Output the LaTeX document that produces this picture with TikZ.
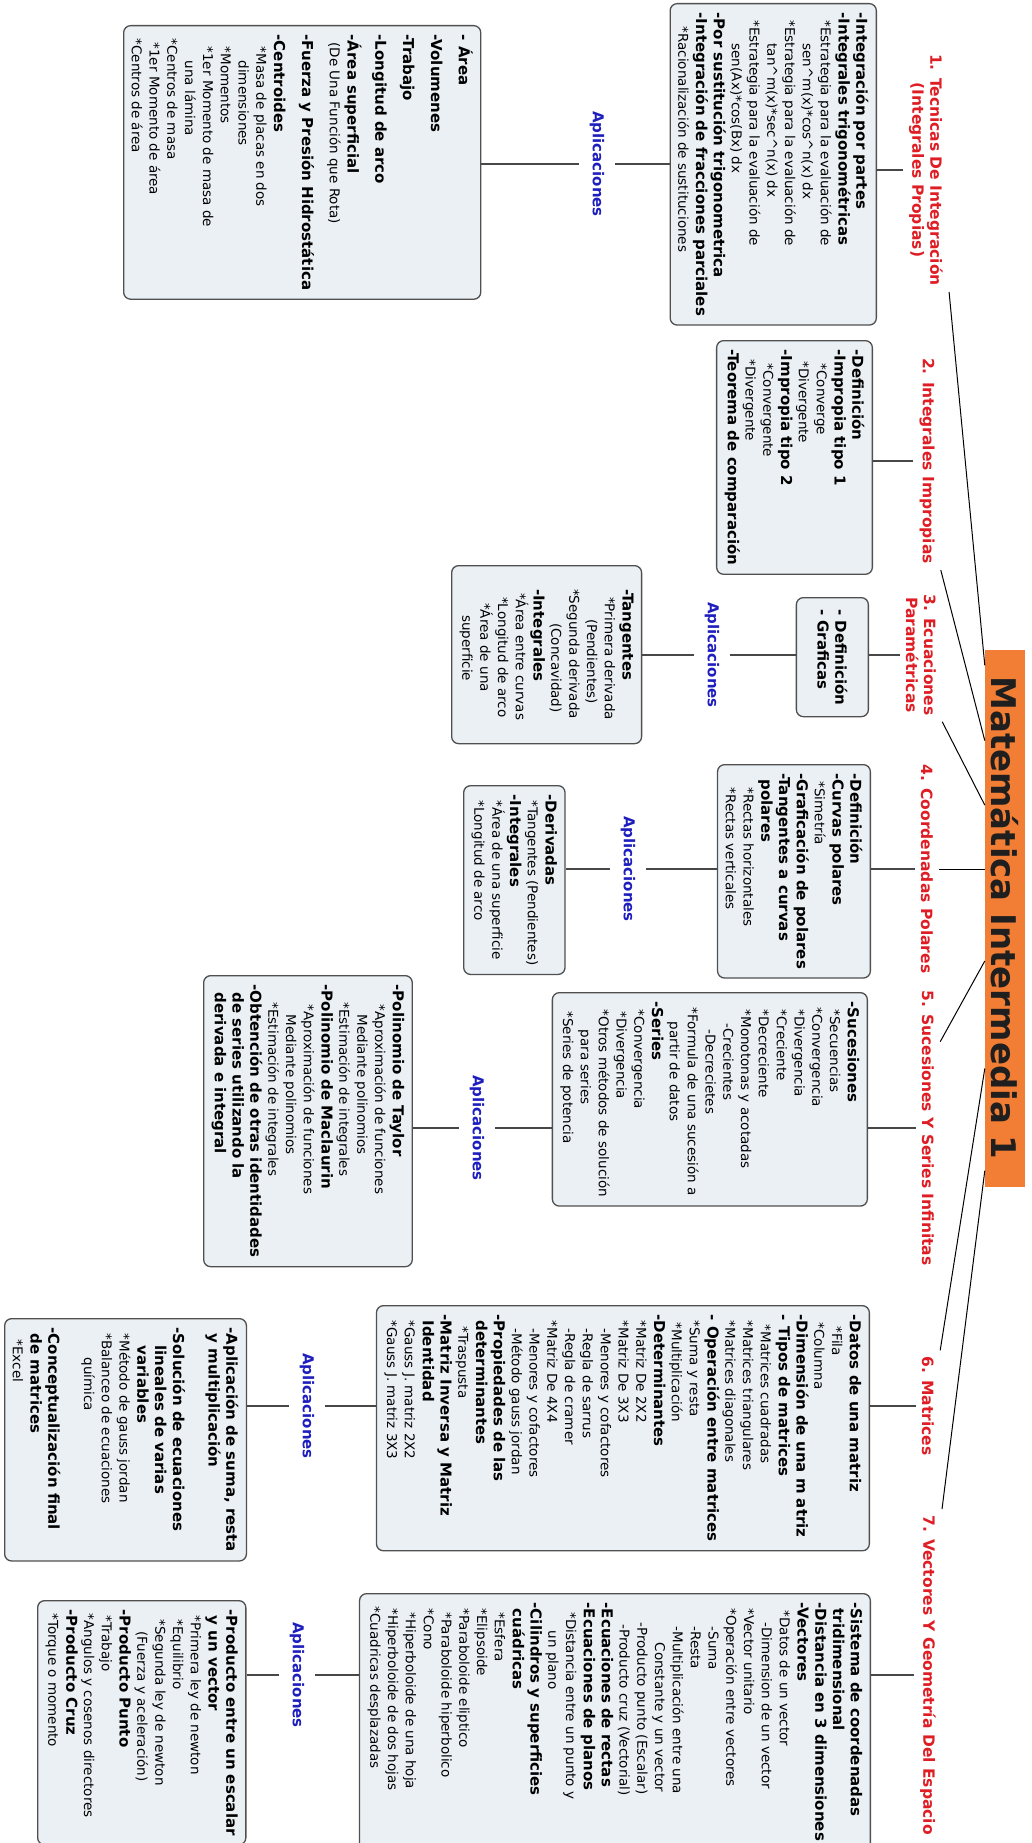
\documentclass[tikz,border=0pt]{standalone}
\usepackage{fontspec}
\setmainfont{DejaVu Sans}
\usetikzlibrary{calc}
\definecolor{boxfill}{RGB}{234,240,244}
\definecolor{boxline}{RGB}{80,80,80}
\definecolor{titred}{RGB}{222,30,36}
\definecolor{appblue}{RGB}{30,30,190}
\definecolor{rootor}{RGB}{242,125,52}
\newcommand\bd{\fontsize{15}{17.8}\selectfont\bfseries}
\newcommand\td{\fontsize{15.5}{18}\selectfont\bfseries}
\newcommand\rg{\fontsize{13.5}{17.8}\selectfont\mdseries}
\newcommand\Bl[2][0]{\mbox{\bd\hspace*{#1pt}#2}}
\newcommand\Rl[2][0]{\mbox{\rg\hspace*{#1pt}#2}}
\newcommand\ca{\textasciicircum}
\tikzset{
  box/.style={draw=boxline, line width=1.3pt, rounded corners=7pt, fill=boxfill,
    rotate=-90, align=left, inner xsep=9pt, inner ysep=8pt, font=\bd},
  tit/.style={rotate=-90, text=titred, font=\td, align=center, inner sep=6pt},
  app/.style={rotate=-90, text=appblue, font=\bd, inner sep=11pt},
  conn/.style={draw=black!72, line width=1.3pt},
  rline/.style={draw=black, line width=1pt},
  root/.style={rotate=-90, fill=rootor, minimum width=537pt, minimum height=40pt,
    inner sep=0pt, font=\fontsize{34}{38}\selectfont\bfseries, text=black!88}
}
\begin{document}
\begin{tikzpicture}[x=1pt,y=-1pt]
\fill[white] (0,0) rectangle (1032,1843);
\useasboundingbox (0,0) rectangle (1032,1843);

% root
\node[root] (R) at (1005,918) {Matemática Intermedia 1};

% titles
\node[tit] (T1) at (926,170) {1. Tecnicas De Integración\\(Integrales Propias)};
\node[tit] (T2) at (927,461) {2. Integrales Impropias};
\node[tit] (T3) at (921,655) {3. Ecuaciones\\Paramétricas};
\node[tit] (T4) at (927,869) {4. Coordenadas Polares};
\node[tit] (T5) at (928,1128) {5. Sucesiones Y Series Infinitas};
\node[tit] (T6) at (928,1406) {6. Matrices};
\node[tit] (T7) at (928,1675) {7. Vectores Y Geometría Del Espacio};

% content boxes
\node[box, anchor=north west] (A1) at (877,3) {%
\Bl{-Integración por partes}\\
\Bl{-Integrales trigonométricas}\\
\Rl[8]{*Estrategia para la evaluación de}\\
\Rl[31]{sen\ca m(x)*cos\ca n(x) dx}\\
\Rl[8]{*Estrategia para la evaluación de}\\
\Rl[31]{tan\ca m(x)*sec\ca n(x) dx}\\
\Rl[8]{*Estrategia para la evaluación de}\\
\Rl[31]{sen(Ax)*cos(Bx) dx}\\
\Bl{-Por sustitución trigonometrica}\\
\Bl{-Integración de fracciones parciales}\\
\Rl[14]{*Racionalización de sustituciones}};

\node[box, anchor=north west] (A2) at (873,340) {%
\Bl{-Definición}\\
\Bl{-Impropia tipo 1}\\
\Rl[14]{*Converge}\\
\Rl[12]{*Divergente}\\
\Bl{-Impropia tipo 2}\\
\Rl[14]{*Convergente}\\
\Rl[10]{*Divergente}\\
\Bl{-Teorema de comparación}};

\node[box, anchor=north west, minimum width=119pt, minimum height=72pt] (A3) at (869,597) {%
\Bl{- Definición}\\
\Bl{- Graficas}};

\node[box, anchor=north west] (A4) at (871,764) {%
\Bl{-Definición}\\
\Bl{-Curvas polares}\\
\Rl[8]{*Simetría}\\
\Bl{-Graficación de polares}\\
\Bl{-Tangentes a curvas}\\
\Bl[6]{polares}\\
\Rl[14]{*Rectas horizontales}\\
\Rl[14]{*Rectas verticales}};

\node[box, anchor=north west] (A5) at (868,992) {%
\Bl{-Sucesiones}\\
\Rl[8]{*Secuencias}\\
\Rl[6]{*Convergencia}\\
\Rl[8]{*Divergencia}\\
\Rl[8]{*Creciente}\\
\Rl[8]{*Decreciente}\\
\Rl[8]{*Monotonas y acotadas}\\
\Rl[22]{-Crecientes}\\
\Rl[28]{-Decrecietes}\\
\Rl[6]{*Formula de una sucesión a}\\
\Rl[20]{partir de datos}\\
\Bl{-Series}\\
\Rl[8]{*Convergencia}\\
\Rl[10]{*Divergencia}\\
\Rl[8]{*Otros métodos de solución}\\
\Rl[28]{para series}\\
\Rl[10]{*Series de potencia}};

\node[box, anchor=north west] (A6) at (870,1305) {%
\Bl{-Datos de una matriz}\\
\Rl[12]{*Fila}\\
\Rl[8]{*Columna}\\
\Bl{-Dimensión de una m atriz}\\
\Bl{- Tipos de matrices}\\
\Rl[10]{*Matrices cuadradas}\\
\Rl[6]{*Matrices triangulares}\\
\Rl[6]{*Matrices diagonales}\\
\Bl{- Operación entre matrices}\\
\Rl[6]{*Suma y resta}\\
\Rl[8]{*Multiplicación}\\
\Bl{-Determinantes}\\
\Rl[6]{*Matriz De 2X2}\\
\Rl[6]{*Matriz De 3X3}\\
\Rl[14]{-Menores y cofactores}\\
\Rl[14]{-Regla de sarrus}\\
\Rl[14]{-Regla de cramer}\\
\Rl[6]{*Matriz De 4X4}\\
\Rl[14]{-Menores y cofactores}\\
\Rl[14]{-Método gauss jordan}\\
\Bl{-Propiedades de las}\\
\Bl[6]{determinantes}\\
\Rl[12]{*Traspusta}\\
\Bl{-Matriz Inversa y Matriz}\\
\Bl[6]{Identidad}\\
\Rl[6]{*Gauss J. matriz 2X2}\\
\Rl[6]{*Gauss J. matriz 3X3}};

\node[box, anchor=north west] (A7) at (871,1593) {%
\Bl{-Sistema de coordenadas}\\
\Bl[6]{tridimensional}\\
\Bl{-Distancia en 3 dimensiones}\\
\Bl{-Vectores}\\
\Rl[8]{*Datos de un vector}\\
\Rl[20]{-Dimension de un vector}\\
\Rl[6]{*Vector unitario}\\
\Rl[6]{*Operación entre vectores}\\
\Rl[24]{-Suma}\\
\Rl[24]{-Resta}\\
\Rl[24]{-Multiplicación entre una}\\
\Rl[40]{Constante y un vector}\\
\Rl[20]{-Producto punto (Escalar)}\\
\Rl[22]{-Producto cruz (Vectorial)}\\
\Bl{-Ecuaciones de rectas}\\
\Bl{-Ecuaciones de planos}\\
\Rl[10]{*Distancia entre un punto y}\\
\Rl[28]{un plano}\\
\Bl{-Cilindros y superficies}\\
\Bl[6]{cuádricas}\\
\Rl[10]{*Esfera}\\
\Rl[6]{*Elipsoide}\\
\Rl[6]{*Paraboloide eliptico}\\
\Rl[10]{*Paraboloide hiperbolico}\\
\Rl[6]{*Cono}\\
\Rl[10]{*Hiperboloide de una hoja}\\
\Rl[6]{*Hiperboloide de dos hojas}\\
\Rl[4]{*Cuadricas desplazadas}};

% application labels
\node[app] (L1) at (597,164) {Aplicaciones};
\node[app] (L3) at (712,655) {Aplicaciones};
\node[app] (L4) at (628,869) {Aplicaciones};
\node[app] (L5) at (477,1128) {Aplicaciones};
\node[app] (L6) at (307,1406) {Aplicaciones};
\node[app] (L7) at (297,1675) {Aplicaciones};

% application boxes
\node[box, anchor=south west] (P1) at (123,25) {%
\Bl{- Área}\\[10pt]
\Bl{-Volumenes}\\[10pt]
\Bl{-Trabajo}\\[10pt]
\Bl{-Longitud de arco}\\[10pt]
\Bl{-Área superficial}\\
\Rl[8]{(De Una Función que Rota)}\\[10pt]
\Bl{-Fuerza y Presión Hidrostática}\\[10pt]
\Bl{-Centroides}\\
\Rl[12]{*Masa de placas en dos}\\
\Rl[26]{dimensiones}\\
\Rl[12]{*Momentos}\\
\Rl[12]{*1er Momento de masa de}\\
\Rl[26]{una lámina}\\
\Rl[4]{*Centros de masa}\\
\Rl[8]{*1er Momento de área}\\
\Rl[4]{*Centros de área}};

\node[box, anchor=south west, minimum width=178pt] (P3) at (451,565) {%
\Bl{-Tangentes}\\
\Rl[8]{*Primera derivada}\\
\Rl[30]{(Pendientes)}\\
\Rl{*Segunda derivada}\\
\Rl[34]{(Concavidad)}\\
\Bl{-Integrales}\\
\Rl[4]{*Área entre curvas}\\
\Rl[8]{*Longitud de arco}\\
\Rl[14]{*Área de una}\\
\Rl[26]{superficie}};

\node[box, anchor=south west] (P4) at (463,785) {%
\Bl{-Derivadas}\\
\Rl[6]{*Tangentes (Pendientes)}\\
\Bl{-Integrales}\\
\Rl[6]{*Área de una superficie}\\
\Rl[6]{*Longitud de arco}};

\node[box, anchor=south west] (P5) at (203,975) {%
\Bl{-Polinomio de Taylor}\\
\Rl[20]{*Aproximación de funciones}\\
\Rl[30]{Mediante polinomios}\\
\Rl[18]{*Estimación de integrales}\\
\Bl{-Polinomio de Maclaurin}\\
\Rl[20]{*Aproximación de funciones}\\
\Rl[30]{Mediante polinomios}\\
\Rl[18]{*Estimación de integrales}\\
\Bl{-Obtención de otras identidades}\\
\Bl[8]{de series utilizando la}\\
\Bl[8]{derivada e integral}};

\node[box, anchor=south west] (P6) at (4,1318) {%
\Bl{-Aplicación de suma, resta}\\
\Bl[6]{y multiplicación}\\ \mbox{}\\
\Bl{-Solución de ecuaciones}\\
\Bl[18]{lineales de varias}\\
\Bl[18]{variables}\\
\Rl[6]{*Método de gauss jordan}\\
\Rl[6]{*Balanceo de ecuaciones}\\
\Rl[30]{química}\\ \mbox{}\\
\Bl{-Conceptualización final}\\
\Bl[6]{de matrices}\\
\Rl[12]{*Excel}};

\node[box, anchor=south west] (P7) at (37,1600) {%
\Bl{-Producto entre un escalar}\\
\Bl[6]{y un vector}\\
\Rl[6]{*Primera ley de newton}\\
\Rl[10]{*Equilibrio}\\
\Rl[10]{*Segunda ley de newton}\\
\Rl[22]{(Fuerza y aceleración)}\\
\Bl{-Producto Punto}\\
\Rl[6]{*Trabajo}\\
\Rl[4]{*Angulos y cosenos directores}\\
\Bl{-Producto Cruz}\\
\Rl[4]{*Torque o momento}};

% connectors title -> box
\foreach \t/\a in {T1/A1,T2/A2,T3/A3,T4/A4,T5/A5,T6/A6,T7/A7}
  \draw[conn] (\t.south) -- (\t.south -| \a.north);
% box -> label -> application box
\foreach \l/\a/\p in {L1/A1/P1,L3/A3/P3,L4/A4/P4,L5/A5/P5,L6/A6/P6,L7/A7/P7}{
  \draw[conn] (\l.north) -- (\l.north -| \a.south);
  \draw[conn] (\l.south) -- (\l.south -| \p.north);
}

% root connectors
\draw[rline] (T1.north east) -- ($(R.south west)!0.03!(R.south east)$);
\draw[rline] (T2.north east) -- ($(R.south west)!0.17!(R.south east)$);
\draw[rline] (T3.north east) -- ($(R.south west)!0.29!(R.south east)$);
\draw[rline] (T4.north) -- (T4.north -| R.south);
\coordinate (T5c) at ($(T5.north west)!0.2!(T5.north east)$);
\draw[rline] (T5c) -- ($(R.south west)!0.58!(R.south east)$);
\draw[rline] (T6.north west) -- ($(R.south west)!0.78!(R.south east)$);
\draw[rline] (T7.north west) -- ($(R.south west)!0.97!(R.south east)$);
\end{tikzpicture}
\end{document}
